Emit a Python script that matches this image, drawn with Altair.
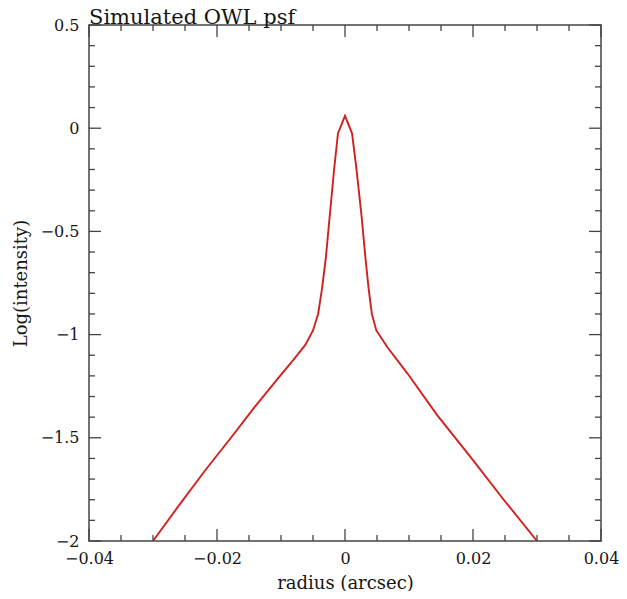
import altair as alt
import pandas as pd

# --- data ---
radius = [-0.0300, -0.0260, -0.0218, -0.0177, -0.0141, -0.0104, -0.0080, -0.0062,
          -0.0050, -0.0042, -0.0036, -0.0030, -0.0024, -0.0017, -0.0011, 0.0,
          0.0011, 0.0018, 0.0026, 0.0032, 0.0037, 0.0042, 0.0049, 0.0066,
          0.0098, 0.0144, 0.0196, 0.0248, 0.0300]
log_intensity = [-2.0, -1.83, -1.656, -1.495, -1.35, -1.21, -1.12, -1.05,
                 -0.98, -0.90, -0.78, -0.63, -0.43, -0.20, -0.025, 0.06,
                 -0.025, -0.20, -0.43, -0.63, -0.78, -0.90, -0.98, -1.06,
                 -1.19, -1.39, -1.592, -1.80, -2.0]

x_major = [-0.04, -0.02, 0.0, 0.02, 0.04]
x_minor = [-0.035, -0.03, -0.025, -0.015, -0.01, -0.005,
           0.005, 0.01, 0.015, 0.025, 0.03, 0.035]
y_major = [-2.0, -1.5, -1.0, -0.5, 0.0, 0.5]
y_minor = [-1.9, -1.8, -1.7, -1.6, -1.4, -1.3, -1.2, -1.1, -0.9, -0.8,
           -0.7, -0.6, -0.4, -0.3, -0.2, -0.1, 0.1, 0.2, 0.3, 0.4]

W, H = 512, 516
MAJ, MIN = 12, 6
FRAME = "#444444"
TXT = "#151515"
FONT = "DejaVu Serif"

xs = alt.Scale(domain=[-0.04, 0.04], nice=False, zero=False)
ys = alt.Scale(domain=[-2.0, 0.5], nice=False, zero=False)

df = pd.DataFrame({"r": radius, "li": log_intensity})

line = alt.Chart(df).mark_line(color="#d0201e", strokeWidth=1.9).encode(
    x=alt.X("r:Q", scale=xs,
            axis=alt.Axis(values=x_major, format="~g", ticks=False, domain=False,
                          grid=False, labelPadding=9, labelFlush=False,
                          labelOverlap=False, title="radius (arcsec)",
                          titlePadding=8)),
    y=alt.Y("li:Q", scale=ys,
            axis=alt.Axis(values=y_major, format="~g", ticks=False, domain=False,
                          grid=False, labelPadding=10, labelFlush=False,
                          labelOverlap=False, title="Log(intensity)",
                          titlePadding=10)),
    order=alt.Order("idx:Q"),
).transform_window(idx="row_number()")


def xticks(vals, length):
    d = pd.DataFrame({"r": vals})
    base = alt.Chart(d).mark_rule(color=FRAME, strokeWidth=1.3)
    bottom = base.encode(x=alt.X("r:Q", scale=xs),
                         y=alt.value(H), y2=alt.value(H - length))
    top = base.encode(x=alt.X("r:Q", scale=xs),
                      y=alt.value(0), y2=alt.value(length))
    return [bottom, top]


def yticks(vals, length):
    d = pd.DataFrame({"li": vals})
    base = alt.Chart(d).mark_rule(color=FRAME, strokeWidth=1.3)
    left = base.encode(y=alt.Y("li:Q", scale=ys),
                       x=alt.value(0), x2=alt.value(length))
    right = base.encode(y=alt.Y("li:Q", scale=ys),
                        x=alt.value(W), x2=alt.value(W - length))
    return [left, right]


layers = [line] + xticks(x_major, MAJ) + xticks(x_minor, MIN) \
    + yticks(y_major, MAJ) + yticks(y_minor, MIN)

chart = alt.layer(*layers).properties(
    width=W, height=H,
    title=alt.TitleParams("Simulated OWL psf", anchor="start", frame="group",
                          font=FONT, fontSize=21, fontWeight="normal",
                          color=TXT, offset=-11),
    padding={"left": 81, "top": 17, "right": 18, "bottom": 50},
    autosize=alt.AutoSizeParams(type="none"),
).configure_view(
    stroke=FRAME, strokeWidth=1.5
).configure_axis(
    labelFont=FONT, labelFontSize=16, labelColor=TXT,
    titleFont=FONT, titleFontSize=18, titleFontWeight="normal", titleColor=TXT,
)

chart.save("out.html", embed_options={"renderer": "svg", "actions": False})
